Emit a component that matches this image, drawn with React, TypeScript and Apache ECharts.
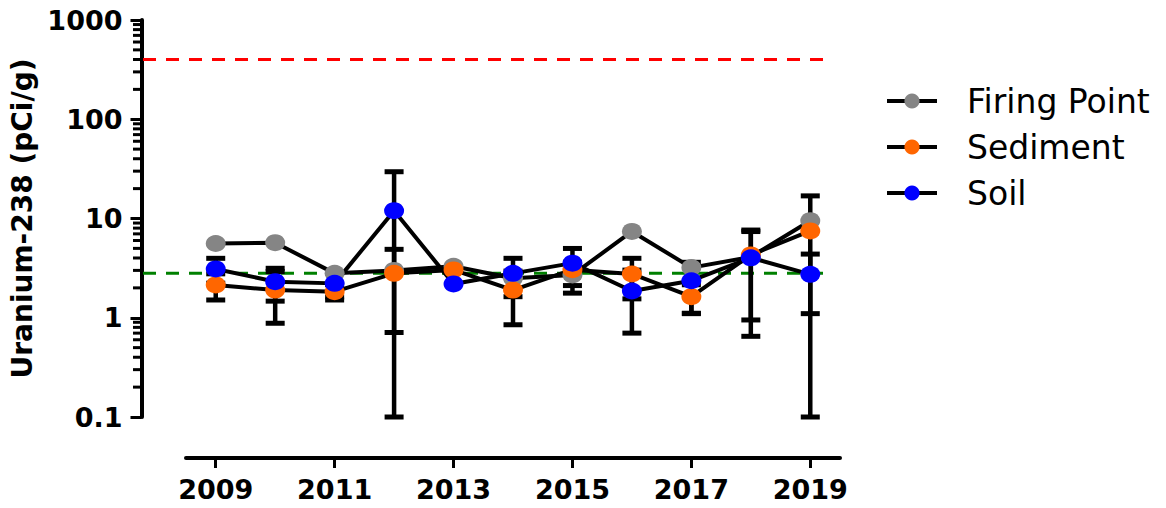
import React, { useEffect, useRef } from "react";
import * as echarts from "echarts";

const years = ["2009", "2010", "2011", "2012", "2013", "2014", "2015", "2016", "2017", "2018", "2019"];
const firingPoint = [5.6, 5.7, 2.8, 3.0, 3.3, 2.5, 2.7, 7.4, 3.2, 4.1, 9.5];
const firingPointErr = [0, 0, 0, 0, 0, 0, 0.93, 0, 0, 0, 0];
const sediment = [2.14, 1.9, 1.83, 2.8, 3.03, 1.9, 3.05, 2.76, 1.63, 4.3, 7.5];
const sedimentErr = [0.63, 1.02, 0.32, 2.09, 0, 1.05, 0, 1.21, 0.52, 3.35, 9.4];
const soil = [3.1, 2.31, 2.22, 12.0, 2.19, 2.8, 3.55, 1.86, 2.36, 4.02, 2.74];
const soilErr = [0.87, 0.84, 0.6, 17.6, 0, 1.17, 1.44, 1.16, 1.26, 3.37, 1.64];
const referenceLevels = [400, 2.8];
const yMin = 0.1;
const yMax = 1000;
const minorTickValues = [
  0.2, 0.3, 0.4, 0.5, 0.6, 0.7, 0.8, 0.9,
  2, 3, 4, 5, 6, 7, 8, 9,
  20, 30, 40, 50, 60, 70, 80, 90,
  200, 300, 400, 500, 600, 700, 800, 900,
];
const seriesNames = ["Firing Point", "Sediment", "Soil"];

const FONT = "DejaVu Sans";
const markerColors = ["#858585", "#FF6600", "#0000FF"];
const refColors = ["#FF0000", "#008000"];

function buildOption(): any {
  const groups = [
    [firingPoint, firingPointErr],
    [sediment, sedimentErr],
    [soil, soilErr],
  ];
  const errorBarData: number[][] = [];
  groups.forEach(([vals, errs]) => {
    vals.forEach((v, i) => {
      if (errs[i] > 0) {
        errorBarData.push([i, Math.max(v - errs[i], yMin), v + errs[i]]);
      }
    });
  });

  const lineSeries = [firingPoint, sediment, soil].map((vals, k) => ({
    type: "line",
    name: seriesNames[k],
    data: vals,
    symbol: "circle",
    symbolSize: [20, 17],
    itemStyle: { color: markerColors[k], borderWidth: 0 },
    lineStyle: { color: "#000", width: 4 },
    z: 5,
  }));

  return {
    animation: false,
    backgroundColor: "#fff",
    textStyle: { fontFamily: FONT },
    grid: { left: 186, right: 326, top: 20, bottom: 91, containLabel: false, outerBoundsMode: "none" },
    legend: {
      data: seriesNames,
      orient: "vertical",
      left: 885,
      top: 84,
      padding: 0,
      itemWidth: 50,
      itemHeight: 19,
      itemGap: 12,
      lineStyle: { width: 4, color: "#000" },
      textStyle: {
        fontFamily: FONT,
        fontSize: 33,
        color: "#000",
        lineHeight: 34,
        padding: [0, 0, 0, 25],
      },
      selectedMode: false,
    },
    xAxis: {
      type: "category",
      data: years,
      boundaryGap: true,
      position: "bottom",
      offset: 41,
      axisLine: { show: true, lineStyle: { color: "#000", width: 4 } },
      axisTick: { show: true, alignWithLabel: true, interval: 1, length: 10, lineStyle: { color: "#000", width: 3 } },
      axisLabel: {
        interval: 1,
        margin: 18,
        fontFamily: FONT,
        fontSize: 27,
        fontWeight: "bold",
        color: "#000",
      },
      splitLine: { show: false },
    },
    yAxis: {
      type: "log",
      logBase: 10,
      min: yMin,
      max: yMax,
      position: "left",
      offset: 44.5,
      name: "Uranium-238 (pCi/g)",
      nameLocation: "middle",
      nameGap: 105,
      nameTextStyle: { fontFamily: FONT, fontSize: 28, fontWeight: "bold", color: "#000" },
      axisLine: { show: true, lineStyle: { color: "#000", width: 4 } },
      axisTick: { show: true, length: 11, lineStyle: { color: "#000", width: 3 } },
      axisLabel: {
        margin: 19,
        fontFamily: FONT,
        fontSize: 27,
        fontWeight: "bold",
        color: "#000",
        formatter: (v: number) => String(Number(v.toPrecision(6))),
      },
      splitLine: { show: false },
      minorTick: { show: false },
    },
    series: [
      {
        type: "custom",
        name: "refLines",
        silent: true,
        data: referenceLevels.map((v) => [0, v]),
        encode: { x: 0, y: 1 },
        z: 1,
        renderItem: (params: any, api: any) => {
          const y = api.coord([0, api.value(1)])[1];
          return {
            type: "line",
            shape: { x1: 143, y1: y, x2: 829, y2: y },
            style: { stroke: refColors[params.dataIndex], lineWidth: 3, lineDash: [13, 10] },
          };
        },
      },
      {
        type: "custom",
        name: "minorTicks",
        silent: true,
        data: minorTickValues.map((v) => [0, v]),
        encode: { x: 0, y: 1 },
        z: 1,
        renderItem: (params: any, api: any) => {
          const y = api.coord([0, api.value(1)])[1];
          return {
            type: "line",
            shape: { x1: 133, y1: y, x2: 141, y2: y },
            style: { stroke: "#000", lineWidth: 3 },
          };
        },
      },
      {
        type: "custom",
        name: "errorBars",
        silent: true,
        data: errorBarData,
        encode: { x: 0, y: [1, 2] },
        z: 3,
        renderItem: (params: any, api: any) => {
          const xi = api.value(0);
          const lo = api.coord([xi, api.value(1)]);
          const hi = api.coord([xi, api.value(2)]);
          const cx = lo[0];
          const half = 9.5;
          return {
            type: "group",
            children: [
              { type: "line", shape: { x1: cx, y1: hi[1], x2: cx, y2: lo[1] }, style: { stroke: "#000", lineWidth: 4.5 } },
              { type: "line", shape: { x1: cx - half, y1: hi[1], x2: cx + half, y2: hi[1] }, style: { stroke: "#000", lineWidth: 5 } },
              { type: "line", shape: { x1: cx - half, y1: lo[1], x2: cx + half, y2: lo[1] }, style: { stroke: "#000", lineWidth: 5 } },
            ],
          };
        },
      },
      ...lineSeries,
    ],
  };
}

export default function App() {
  const ref = useRef<HTMLDivElement>(null);
  useEffect(() => {
    document.body.style.margin = "0";
    const chart = echarts.init(ref.current!, null, { renderer: "svg" });
    chart.setOption(buildOption());
    return () => chart.dispose();
  }, []);
  return <div ref={ref} style={{ width: 1166, height: 508 }} />;
}
